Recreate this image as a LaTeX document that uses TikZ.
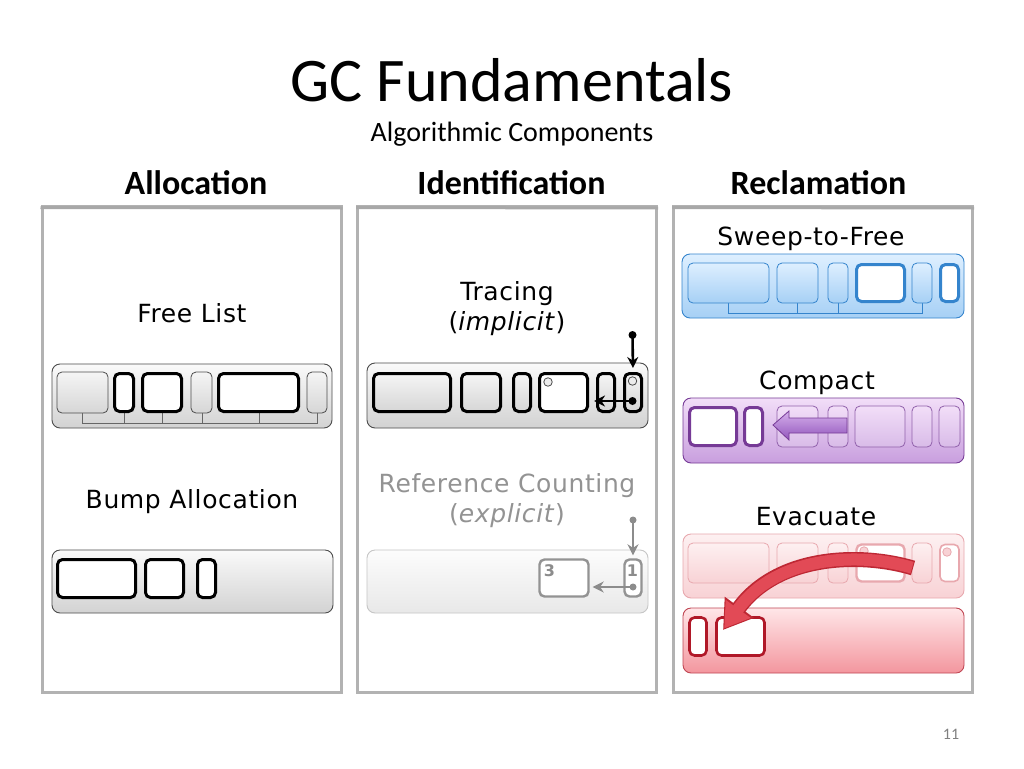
\documentclass[tikz,border=0pt]{standalone}
\usepackage{fontspec}
\setmainfont{Carlito}
\newfontfamily\verd[LetterSpace=2.5]{DejaVu Sans}
\usetikzlibrary{arrows.meta}

\definecolor{sweepdk}{RGB}{52,132,205}
\definecolor{sweeptop}{RGB}{222,239,255}
\definecolor{sweepbot}{RGB}{166,208,245}
\definecolor{compdk}{RGB}{118,58,150}
\definecolor{comptop}{RGB}{242,222,248}
\definecolor{compbot}{RGB}{200,158,222}
\definecolor{comparrtop}{RGB}{214,176,236}
\definecolor{comparrbot}{RGB}{146,86,188}
\definecolor{evacdk}{RGB}{176,24,40}
\definecolor{evactop}{RGB}{255,230,232}
\definecolor{evacbot}{RGB}{243,150,158}
\definecolor{ghostdk}{RGB}{232,168,174}
\definecolor{ghosttop}{RGB}{253,240,241}
\definecolor{ghostbot}{RGB}{248,210,213}
\definecolor{evacarrow}{RGB}{226,74,86}
\definecolor{evacrim}{RGB}{190,40,52}

\tikzset{
  panel/.style={rectangle,draw=gray!60,line width=3pt,fill=white,inner sep=0pt},
  bar/.style={rectangle,rounded corners=8pt,draw=black!70,line width=0.9pt,
    top color=gray!4,bottom color=gray!35,inner sep=0pt},
  free/.style={rectangle,rounded corners=5pt,draw=black,line width=3pt,fill=white,
    inner sep=0pt,minimum height=38},
  used/.style={rectangle,rounded corners=5pt,draw=black!70,line width=0.8pt,
    top color=gray!8,bottom color=gray!32,inner sep=0pt,minimum height=41},
  live/.style={used,draw=black,line width=3pt,minimum height=38},
  flist/.style={draw=black!60,line width=0.8pt},
  dot/.style={circle,fill=black,inner sep=0pt,minimum size=8pt},
  ring/.style={circle,draw=black!70,fill=gray!15,line width=0.8pt,inner sep=0pt,minimum size=8.5pt},
  ptr/.style={-{Stealth[length=11pt,width=11pt]},line width=2.6pt},
  label/.style={anchor=base,font=\verd\fontsize{25}{28}\selectfont},
  head/.style={anchor=base,font=\bfseries\fontsize{34}{38}\selectfont},
}

\begin{document}
\begin{tikzpicture}[x=1pt,y=-1pt]
\useasboundingbox (0,0) rectangle (1024,768);

% titles
\node[anchor=base,font=\fontsize{62}{70}\selectfont] (title) at (512,101) {GC Fundamentals};
\node[anchor=base,font=\fontsize{28}{32}\selectfont] (subtitle) at (512,141) {Algorithmic Components};
\node[head] (halloc) at (196,194) {Allocation};
\node[head] (hident) at (511.5,194) {Identification};
\node[head] (hrecl) at (818.5,194) {Reclamation};

% panels
\node[panel,minimum width=299,minimum height=486] (palloc) at (191.5,449) {};
\node[panel,minimum width=299,minimum height=486] (pident) at (507,449) {};
\node[panel,minimum width=299,minimum height=486] (precl) at (823,449) {};
\draw[gray!68,line width=3pt] (palloc.north west) ++(0,3) -- (palloc.north east |- 0,208);
\draw[gray!68,line width=3pt] (pident.north west) ++(0,3) -- (pident.north east |- 0,208);
\draw[gray!68,line width=3pt] (precl.north west) ++(0,3) -- (precl.north east |- 0,208);

% allocation: free list
\node[label] (lfree) at (192,322) {Free List};
\node[bar,minimum width=280,minimum height=64] (flbar) at (192,396) {};
\draw[flist] (82.5,413) -- (82.5,423) -- (317,423) -- (317,413);
\foreach \x in {124,162,202,259} \draw[flist] (\x,413) -- (\x,423);
\node[used,minimum width=51] (fl1) at (82.5,392.5) {};
\node[free,minimum width=19] (fl2) at (124,392.5) {};
\node[free,minimum width=39] (fl3) at (162,392.5) {};
\node[used,minimum width=21] (fl4) at (201.5,392.5) {};
\node[free,minimum width=80] (fl5) at (258.5,392.5) {};
\node[used,minimum width=20] (fl6) at (317,392.5) {};

% allocation: bump
\node[label] (lbump) at (192,508) {Bump Allocation};
\node[bar,minimum width=281,minimum height=63] (babar) at (192.5,581.5) {};
\node[free,minimum width=78] (ba1) at (96.5,578.5) {};
\node[free,minimum width=38] (ba2) at (164.5,578.5) {};
\node[free,minimum width=18] (ba3) at (206.5,578.5) {};

% identification: tracing
\node[label] (ltrace) at (507,300) {Tracing};
\node[label] (limpl) at (507,330) {(\textit{implicit})};
\node[bar,minimum width=281,minimum height=65] (trbar) at (507.5,395.5) {};
\node[live,minimum width=77] (tr1) at (412,392.5) {};
\node[live,minimum width=39] (tr2) at (481,392.5) {};
\node[live,minimum width=17] (tr3) at (522,392.5) {};
\node[free,minimum width=48] (tr4) at (563.5,392.5) {};
\node[live,minimum width=17] (tr5) at (606,392.5) {};
\node[live,minimum width=17] (tr6) at (633,392.5) {};
\node[ring] (tr4r) at (548,382) {};
\node[ring] (tr6r) at (632.5,381) {};
\node[dot] (tr6d) at (632.5,401) {};
\node[dot] (troot) at (632.5,335) {};
\draw[ptr,shorten >=4pt] (troot.center) -- (tr6.north);
\draw[ptr,shorten >=5pt] (tr6d.center) -- (tr4.east |- tr6d);

% identification: reference counting
\node[label,text=gray!85] (lref) at (507,492) {Reference Counting};
\node[label,text=gray!85] (lexpl) at (507,522) {(\textit{explicit})};
\node[bar,draw=gray!45,top color=gray!2,bottom color=gray!18,minimum width=281,minimum height=63] (rcbar) at (507.5,581.5) {};
\node[free,draw=gray!85,line width=2.4pt,minimum width=49,minimum height=37] (rc3) at (564,578) {};
\node[free,draw=gray!85,line width=2.4pt,minimum width=17,minimum height=37] (rc1) at (633,578) {};
\node[font=\verd\bfseries\fontsize{16}{17}\selectfont,text=gray!90,inner sep=0pt] (rc3n) at (549.5,571) {3};
\node[font=\verd\bfseries\fontsize{16}{17}\selectfont,text=gray!90,inner sep=0pt] (rc1n) at (632.5,571) {1};
\node[dot,fill=gray!90,minimum size=7pt] (rc1d) at (633,587) {};
\node[dot,fill=gray!90,minimum size=7pt] (rcroot) at (633,520) {};
\draw[ptr,gray!90,line width=2.2pt,shorten >=3pt] (rcroot.center) -- (rc1.north);
\draw[ptr,gray!90,line width=2.2pt,shorten >=3pt] (rc1d.center) -- (rc3.east |- rc1d);

% reclamation: sweep
\node[label] (lsweep) at (811,245) {Sweep-to-Free};
\node[bar,draw=sweepdk,top color=sweeptop,bottom color=sweepbot,minimum width=282,minimum height=64] (swbar) at (823,286) {};
\draw[flist,draw=sweepdk] (728.5,303) -- (728.5,313) -- (922,313) -- (922,303);
\foreach \x in {797.5,838} \draw[flist,draw=sweepdk] (\x,303) -- (\x,313);
\tikzset{sused/.style={used,draw=sweepdk,top color=sweeptop,bottom color=sweepbot,minimum height=40},
  sfree/.style={free,draw=sweepdk,minimum height=37}}
\node[sused,minimum width=81] (sw1) at (728.5,283) {};
\node[sused,minimum width=41] (sw2) at (797.5,283) {};
\node[sused,minimum width=20] (sw3) at (838,283) {};
\node[sfree,minimum width=48] (sw4) at (880.5,283) {};
\node[sused,minimum width=20] (sw5) at (922,283) {};
\node[sfree,minimum width=18] (sw6) at (949.5,283) {};

% reclamation: compact
\node[label] (lcomp) at (817,389) {Compact};
\node[bar,draw=compdk,top color=comptop,bottom color=compbot,minimum width=281,minimum height=65] (cpbar) at (823.5,430.5) {};
\tikzset{cused/.style={used,draw=compdk!80,top color=comptop,bottom color=compbot!70,minimum height=41},
  cfree/.style={free,draw=compdk,minimum height=38}}
\node[cfree,minimum width=47] (cp1) at (713,426.5) {};
\node[cfree,minimum width=18] (cp2) at (753.5,426.5) {};
\node[cused,minimum width=41] (cp3) at (797.5,426.5) {};
\node[cused,minimum width=20] (cp4) at (838,426.5) {};
\node[cused,minimum width=50] (cp5) at (880,426.5) {};
\node[cused,minimum width=20] (cp6) at (922,426.5) {};
\node[cused,minimum width=21] (cp7) at (949.5,426.5) {};
\draw[draw=compdk,line width=0.8pt,top color=comparrtop,bottom color=comparrbot]
  (847,418) -- (789,418) -- (789,411) -- (773,425) -- (789,440) -- (789,433) -- (847,433) -- cycle;

% reclamation: evacuate
\node[label] (levac) at (816,525) {Evacuate};
\node[bar,draw=ghostdk,top color=ghosttop,bottom color=ghostbot,minimum width=281,minimum height=64] (ghbar) at (823.5,566) {};
\tikzset{gused/.style={used,draw=ghostdk,top color=ghosttop,bottom color=ghostbot,minimum height=40},
  gfree/.style={free,draw=ghostdk,line width=2.4pt,minimum height=37}}
\node[gused,minimum width=81] (gh1) at (728.5,563) {};
\node[gused,minimum width=41] (gh2) at (797.5,563) {};
\node[gused,minimum width=20] (gh3) at (838,563) {};
\node[gfree,minimum width=48] (gh4) at (880.5,563) {};
\node[gused,minimum width=20] (gh5) at (922,563) {};
\node[gfree,line width=1.6pt,minimum width=19] (gh6) at (949.5,563) {};
\node[ring,draw=ghostdk,fill=ghostbot] (gh4r) at (864,551) {};
\node[ring,draw=ghostdk,fill=ghostbot] (gh6r) at (947,552) {};
\node[bar,draw=evacdk!80,top color=evactop,bottom color=evacbot,minimum width=281,minimum height=65] (evbar) at (823.5,640.5) {};
\node[free,draw=evacdk,line width=2.6pt,minimum width=17] (ev1) at (698,636.5) {};
\node[free,draw=evacdk,line width=2.6pt,minimum width=48] (ev2) at (740.5,636.5) {};
\coordinate (evfrom) at (913,568);
\coordinate (evto) at (723,630);
\draw[line width=15pt,evacrim,-{Triangle[length=28pt,width=34pt]}]
  (evfrom) .. controls (860,552) and (777,555) .. (evto);
\draw[line width=12pt,evacarrow,shorten >=2pt,shorten <=1pt,-{Triangle[length=24pt,width=29pt]}]
  (evfrom) .. controls (860,552) and (777,555) .. (evto);

% page number
\node[anchor=base,font=\fontsize{16}{18}\selectfont,text=gray] (pageno) at (951,739) {11};
\end{tikzpicture}
\end{document}
